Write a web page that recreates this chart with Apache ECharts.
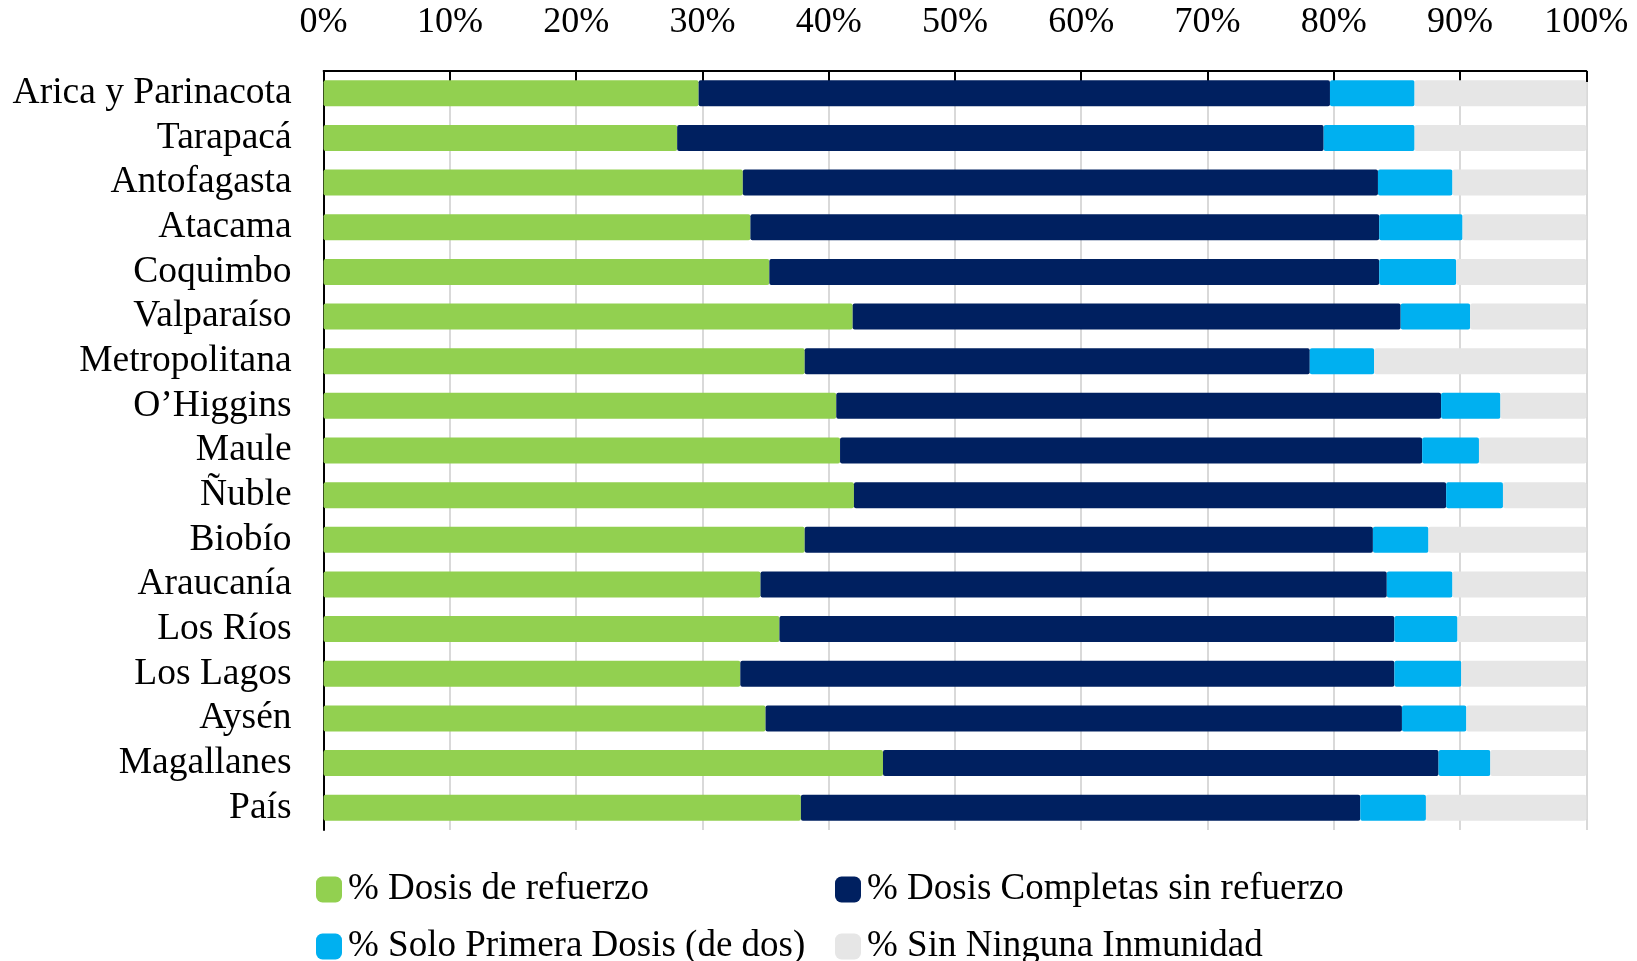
<!DOCTYPE html>
<html>
<head>
<meta charset="utf-8">
<script src="https://cdn.jsdelivr.net/npm/echarts@6/dist/echarts.min.js"></script>
<style>
  html, body { margin: 0; padding: 0; background: #fff; }
  #chart { width: 1637px; height: 961px; }
</style>
</head>
<body>
<div id="chart"></div>
<script>
// regiones, de arriba hacia abajo
var regiones = ['Arica y Parinacota', 'Tarapacá', 'Antofagasta', 'Atacama', 'Coquimbo', 'Valparaíso',
    'Metropolitana', 'O\u2019Higgins', 'Maule', 'Ñuble', 'Biobío', 'Araucanía', 'Los Ríos',
    'Los Lagos', 'Aysén', 'Magallanes', 'País'];

var refuerzo  = [29.7, 28.0, 33.2, 33.8, 35.3, 41.9, 38.1, 40.6, 40.9, 42.0, 38.1, 34.6, 36.1, 33.0, 35.0, 44.3, 37.8];
var completas = [50.0, 51.2, 50.3, 49.8, 48.3, 43.4, 40.0, 47.9, 46.1, 46.9, 45.0, 49.6, 48.7, 51.8, 50.4, 44.0, 44.3];
var primera   = [6.7, 7.2, 5.9, 6.6, 6.1, 5.5, 5.1, 4.7, 4.5, 4.5, 4.4, 5.2, 5.0, 5.3, 5.1, 4.1, 5.2];
var ninguna   = [13.6, 13.6, 10.6, 9.8, 10.3, 9.2, 16.8, 6.8, 8.5, 6.6, 12.5, 10.6, 10.2, 9.9, 9.5, 7.6, 12.7];

var nombres = ['% Dosis de refuerzo', '% Dosis Completas sin refuerzo',
    '% Solo Primera Dosis (de dos)', '% Sin Ninguna Inmunidad'];
var colores = ['#92D050', '#002060', '#00B0F0', '#E6E6E6'];

var fuente = '"Liberation Serif", "Times New Roman", serif';

function serie(i, datos) {
    return {
        name: nombres[i],
        type: 'bar',
        stack: 'total',
        barWidth: 26,
        data: datos,
        itemStyle: { color: colores[i], borderRadius: 2 }
    };
}

function leyenda(i, left, top) {
    return {
        data: [nombres[i]],
        left: left,
        top: top,
        padding: 0,
        icon: 'roundRect',
        itemWidth: 26,
        itemHeight: 26,
        itemGap: 0,
        selectedMode: false,
        textStyle: { fontFamily: fuente, fontSize: 37, color: '#000', padding: [0, 0, 0, 1] }
    };
}

var chart = echarts.init(document.getElementById('chart'));
chart.setOption({
    animation: false,
    color: colores,
    grid: { left: 323.6, right: 50.7, top: 71, bottom: 131, containLabel: false },
    legend: [
        leyenda(0, 316, 871),
        leyenda(1, 835, 871),
        leyenda(2, 316, 928),
        leyenda(3, 835, 928)
    ],
    xAxis: {
        type: 'value',
        position: 'top',
        min: 0,
        max: 100,
        interval: 10,
        axisLine: { show: true, lineStyle: { color: '#000', width: 2 } },
        axisTick: { show: true, inside: true, length: 11, lineStyle: { color: '#000', width: 2 } },
        axisLabel: {
            margin: 30,
            formatter: '{value}%',
            fontFamily: fuente,
            fontSize: 36,
            color: '#000'
        },
        splitLine: { show: true, lineStyle: { color: '#D9D9D9', width: 2 } }
    },
    yAxis: {
        type: 'category',
        inverse: true,
        data: regiones,
        axisLine: { show: true, lineStyle: { color: '#000', width: 2 } },
        axisTick: { show: false },
        axisLabel: {
            interval: 0,
            margin: 32,
            fontFamily: fuente,
            fontSize: 37.5,
            color: '#000',
            padding: [8, 0, 0, 0]
        }
    },
    series: [
        serie(0, refuerzo),
        serie(1, completas),
        serie(2, primera),
        serie(3, ninguna)
    ]
});
</script>
</body>
</html>
